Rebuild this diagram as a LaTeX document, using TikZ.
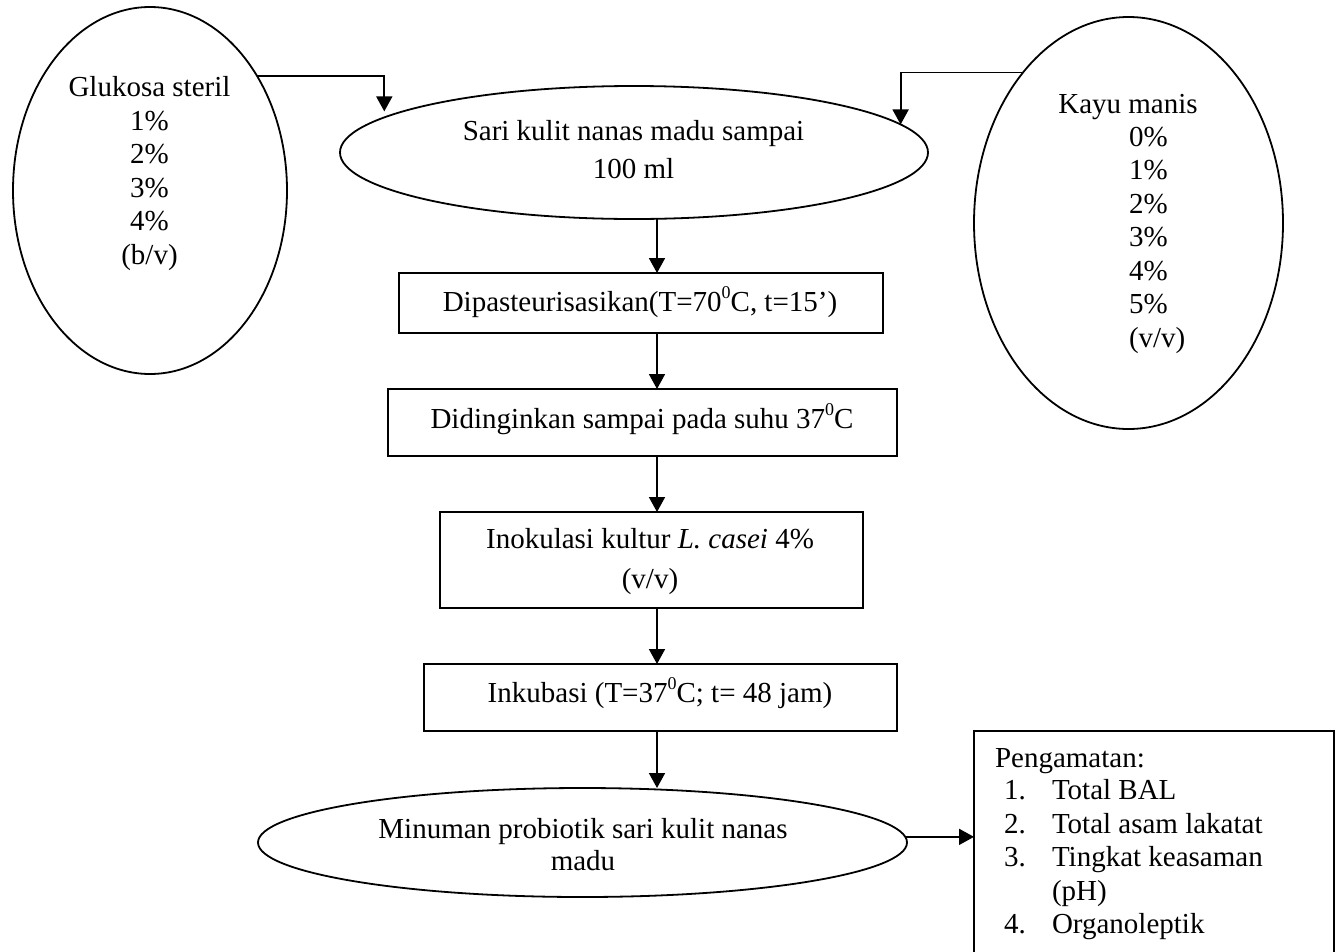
\documentclass[tikz,border=0pt]{standalone}
\usepackage{fontspec}
\setmainfont{Liberation Serif}
\usetikzlibrary{shapes.geometric,arrows.meta}
\newcommand{\degz}{\raisebox{0.42em}{\fontsize{18}{18}\selectfont 0}}
\begin{document}
\begin{tikzpicture}[x=1pt,y=-1pt,
  every node/.style={inner sep=0pt, outer sep=0pt},
  shp/.style={draw, line width=1.8pt},
  oval/.style={shp, ellipse},
  boxn/.style={shp, rectangle},
  txt/.style={font=\fontsize{29}{33.5}\selectfont},
  arr/.style={line width=1.8pt, -{Triangle[width=16pt,length=15pt]}}]
\clip (0,0) rectangle (1341,951);
\fill[white] (0,0) rectangle (1341,951);

% shapes
\node[oval, minimum width=274pt, minimum height=367pt] (glu) at (150,190.5) {};
\node[oval, minimum width=588pt, minimum height=133pt] (sari) at (634,152.5) {};
\node[oval, minimum width=309pt, minimum height=412pt] (kayu) at (1128.5,223) {};
\node[boxn, minimum width=484pt, minimum height=60pt] (b1) at (641,303) {};
\node[boxn, minimum width=509pt, minimum height=67pt] (b2) at (642.5,422.5) {};
\node[boxn, minimum width=423pt, minimum height=96pt] (b3) at (651.5,560) {};
\node[boxn, minimum width=473pt, minimum height=67pt] (b4) at (660.5,697.5) {};
\node[oval, minimum width=649pt, minimum height=109pt] (bot) at (582.5,842.5) {};
\node[boxn, minimum width=360pt, minimum height=280pt, anchor=north west] (peng) at (974,731) {};

% texts
\node[txt, anchor=north] (gluT) at (149.5,73.5) {\begin{tabular}{@{}c@{}}Glukosa steril\\1\%\\2\%\\3\%\\4\%\\(b/v)\end{tabular}};
\node[txt, anchor=base] (kayuT) at (1128,113) {Kayu manis};
\node[txt, anchor=north west] (kayuP) at (1129,123) {\begin{tabular}{@{}l@{}}0\%\\1\%\\2\%\\3\%\\4\%\\5\%\\(v/v)\end{tabular}};
\node[font=\fontsize{29}{37.7}\selectfont, anchor=north] (sariT) at (633.5,114.6) {\begin{tabular}{@{}c@{}}Sari kulit nanas madu sampai\\100 ml\end{tabular}};
\node[txt, anchor=base] (b1T) at (640,311) {Dipasteurisasikan(T=70\degz C, t=15’)};
\node[txt, anchor=base] (b2T) at (642,428) {Didinginkan sampai pada suhu 37\degz C};
\node[font=\fontsize{29}{40}\selectfont, anchor=north] (b3T) at (650,520) {\begin{tabular}{@{}c@{}}Inokulasi kultur \textit{L. casei} 4\%\\(v/v)\end{tabular}};
\node[txt, anchor=base] (b4T) at (660,702) {Inkubasi (T=37\degz C; t= 48 jam)};
\node[font=\fontsize{29}{32}\selectfont, anchor=north] (botT) at (583,815.6) {\begin{tabular}{@{}c@{}}Minuman probiotik sari kulit nanas\\madu\end{tabular}};
\node[txt, anchor=base west] (pengT) at (995,767) {Pengamatan:};
\node[txt, anchor=north west] (pengL) at (1004,776.5) {\begin{tabular}{@{}p{48pt}@{}l@{}}1.&Total BAL\\2.&Total asam lakatat\\3.&Tingkat keasaman\\&(pH)\\4.&Organoleptik\end{tabular}};

% connectors
\coordinate (col) at (657,0);
\draw[arr] (sari.south -| col) -- (b1.north -| col);
\draw[arr] (b1.south -| col) -- (b2.north -| col);
\draw[arr] (b2.south -| col) -- (b3.north -| col);
\draw[arr] (b3.south -| col) -- (b4.north -| col);
\draw[arr] (b4.south -| col) -- (bot.north -| col);
\draw[arr, shorten >=6pt] (glu.47.6) -| (sari.172.5);
\draw[arr] (kayu.125.6) -| (sari.6.2);
\draw[arr] (bot.1.3) -- (bot.1.3 -| peng.west);
\end{tikzpicture}
\end{document}
